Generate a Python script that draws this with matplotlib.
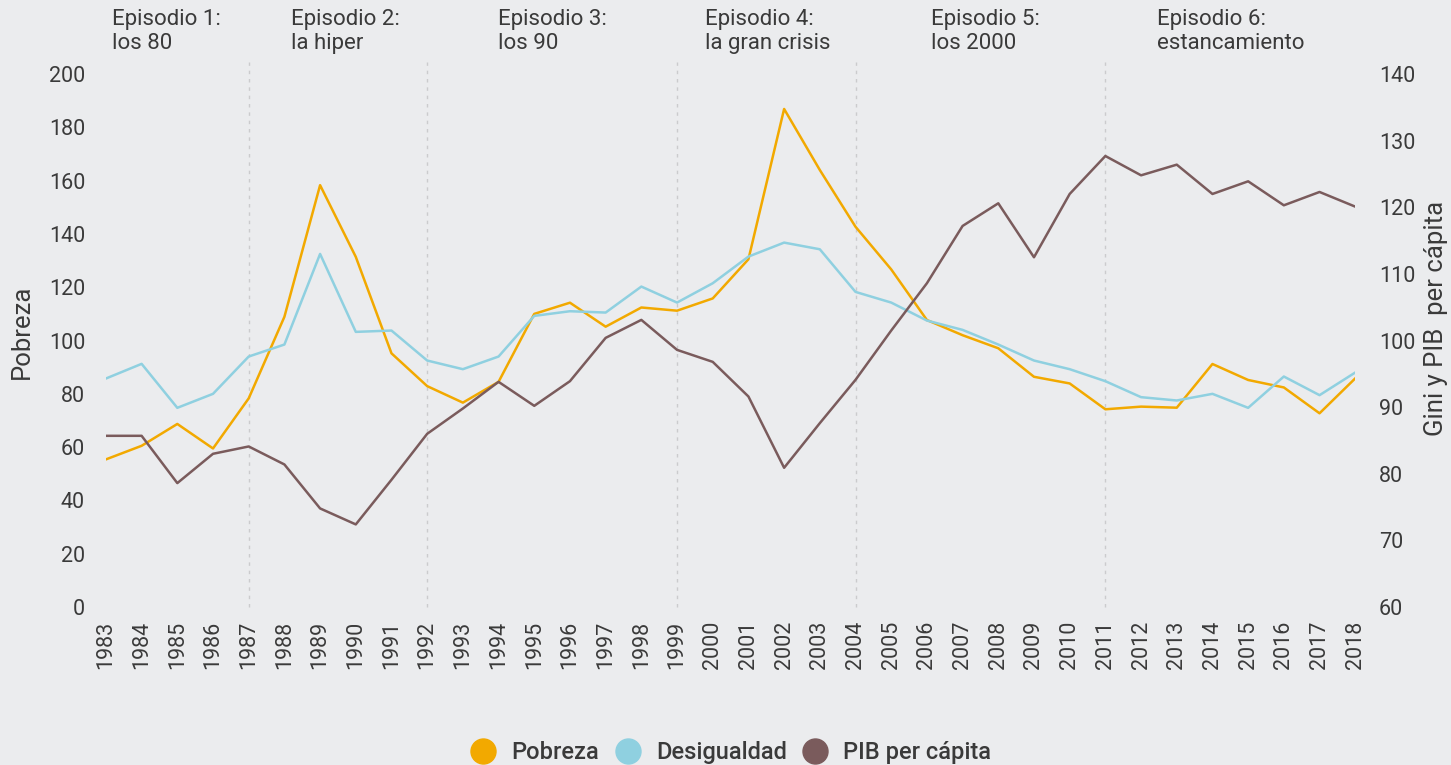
import matplotlib.pyplot as plt
from matplotlib.lines import Line2D

plt.rcParams['font.family'] = ['Roboto', 'DejaVu Sans']

# datos
years = list(range(1983, 2019))

pobreza = [55.4, 60.5, 68.7, 59.5, 78.3, 108.9, 158.3, 131.4, 95.2, 82.9,
           76.7, 84.5, 110.0, 114.2, 105.2, 112.4, 111.2, 115.8, 130.5, 186.9,
           164.0, 142.7, 126.7, 107.7, 102.0, 97.1, 86.4, 83.9, 74.2, 75.2,
           74.8, 91.2, 85.2, 82.4, 72.7, 85.8]

desigualdad = [94.3, 96.5, 89.9, 92.0, 97.6, 99.4, 113.0, 101.3, 101.5, 97.0,
               95.7, 97.6, 103.7, 104.4, 104.2, 108.1, 105.7, 108.6, 112.6, 114.7,
               113.7, 107.3, 105.7, 103.0, 101.6, 99.4, 97.0, 95.7, 93.9, 91.5,
               91.0, 92.0, 89.9, 94.6, 91.8, 95.2]

pib = [85.7, 85.7, 78.6, 83.0, 84.1, 81.4, 74.8, 72.4, 79.1, 86.0,
       89.8, 93.8, 90.2, 93.9, 100.4, 103.1, 98.6, 96.8, 91.6, 80.9,
       87.6, 94.1, 101.5, 108.6, 117.2, 120.6, 112.5, 122.0, 127.7, 124.8,
       126.4, 122.0, 123.9, 120.3, 122.3, 120.1]

cortes = [1987, 1992, 1999, 2004, 2011]
episodios = ["Episodio 1:\nlos 80", "Episodio 2:\nla hiper", "Episodio 3:\nlos 90",
             "Episodio 4:\nla gran crisis", "Episodio 5:\nlos 2000", "Episodio 6:\nestancamiento"]
episodios_x = [1983.17, 1988.18, 1993.98, 1999.78, 2006.12, 2012.45]

bg = "#ebecee"
txt = "#3a3a3a"
c_pob = "#f2a900"
c_des = "#8fd0e0"
c_pib = "#7a5b5c"

fig = plt.figure(figsize=(14.51, 7.65), dpi=100, facecolor=bg)
ax = fig.add_axes([0.073, 0.2065, 0.861, 0.6967], facecolor=bg)
ax2 = ax.twinx()

for x in cortes:
    ax.axvline(x, ymin=0, ymax=1.022, color="#cbcbcd", lw=1, ls=(0, (2.5, 3.5)), clip_on=False, zorder=0)

ax.plot(years, pobreza, color=c_pob, lw=1.8, zorder=3)
ax2.plot(years, desigualdad, color=c_des, lw=1.8)
ax2.plot(years, pib, color=c_pib, lw=1.8)

ax.set_xlim(1983, 2018)
ax.set_ylim(0, 200)
ax2.set_ylim(60, 140)
ax.set_yticks(range(0, 201, 20))
ax2.set_yticks(range(60, 141, 10))
ax.set_xticks(years)
ax.set_xticklabels([str(y) for y in years], rotation=90)

for a in (ax, ax2):
    for s in a.spines.values():
        s.set_visible(False)
    a.tick_params(length=0, labelsize=15.5, labelcolor=txt)
ax.tick_params(axis='y', pad=15)
ax2.tick_params(axis='y', pad=17)
ax.tick_params(axis='x', pad=10)

ax.set_ylabel("Pobreza", fontsize=18.5, color=txt)
ax.yaxis.set_label_coords(-0.058, 0.517)
ax2.set_ylabel("Gini y PIB  per cápita", fontsize=18.5, color=txt)
ax2.yaxis.set_label_coords(1.055, 0.542)

for lab, x in zip(episodios, episodios_x):
    ax.text(x, 1.122, lab, transform=ax.get_xaxis_transform(), ha='left', va='top',
            fontsize=16, color=txt, linespacing=1.2)

handles = [Line2D([], [], ls='none', marker='o', markersize=18, color=c)
           for c in (c_pob, c_des, c_pib)]
fig.legend(handles, ["Pobreza", "Desigualdad", "PIB per cápita"], loc='center',
           bbox_to_anchor=(0.5, 0.016), ncol=3, frameon=False,
           handletextpad=0.2, columnspacing=0.2, labelcolor=txt,
           prop={'weight': 'medium', 'size': 17})

fig.savefig("out.png", dpi=100, facecolor=bg)
